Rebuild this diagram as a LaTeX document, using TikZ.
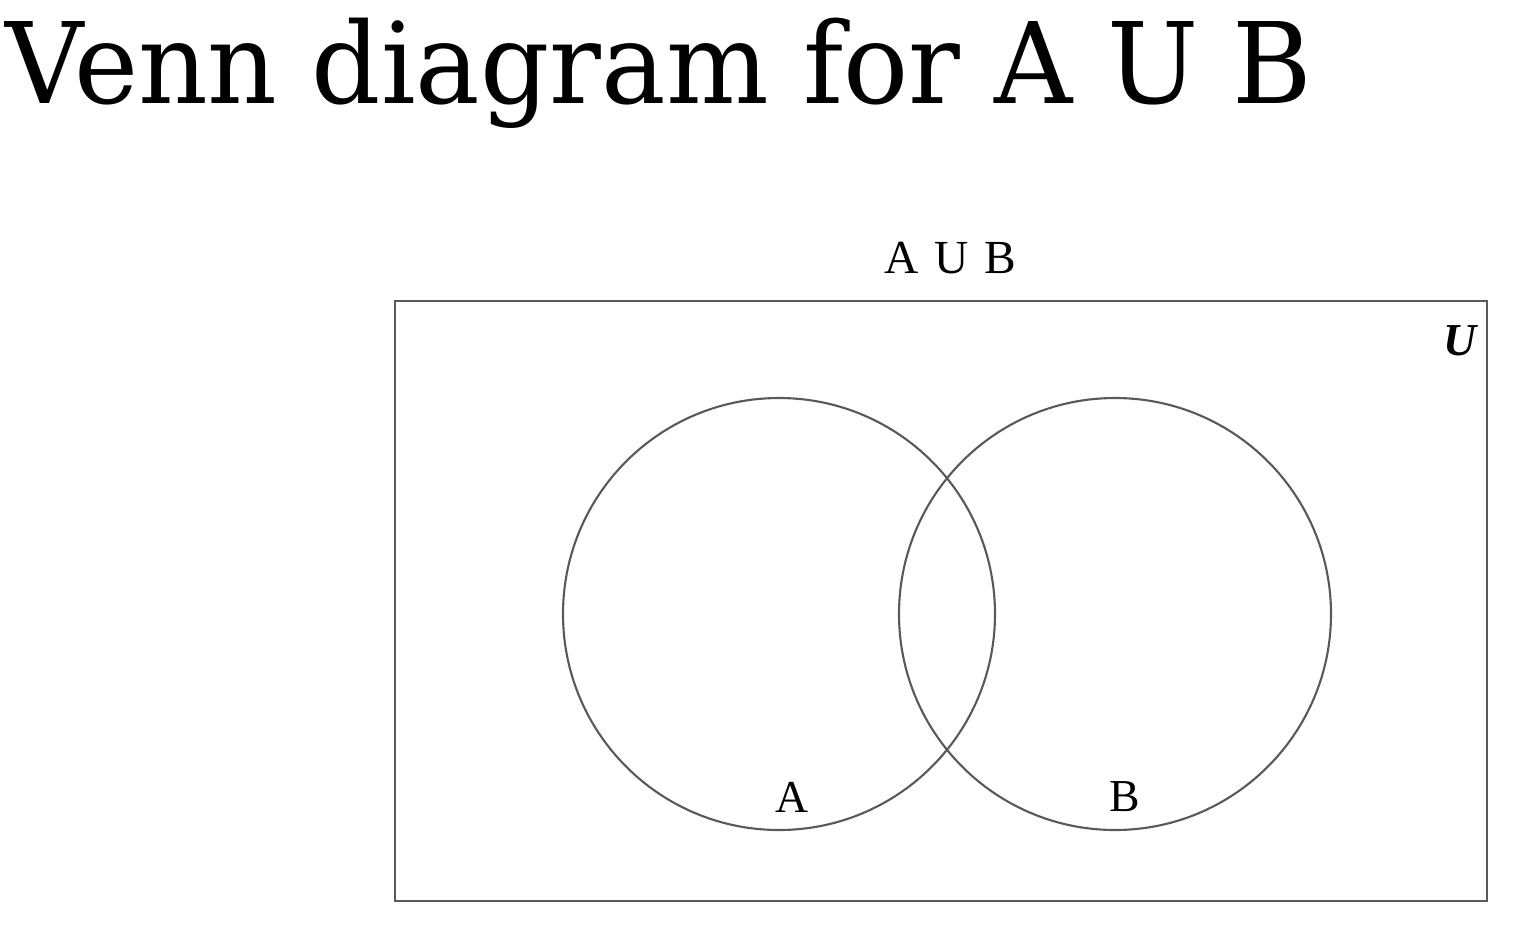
\documentclass[tikz,border=0pt]{standalone}
\usepackage{fontspec}
\setmainfont{Liberation Serif}
\newfontfamily\titlefont{DejaVu Serif}
\usepackage{xcolor}
\usetikzlibrary{positioning}

\tikzset{
  setline/.style={draw=black!65,line width=0.6pt},
  setlabel/.style={inner sep=0pt,font=\fontsize{13}{15}\selectfont}
}

\begin{document}
\begin{tikzpicture}
            \useasboundingbox (0,0) rectangle (15.27,9.31);
            \node[anchor=base west,inner sep=0pt,xscale=0.963,font=\titlefont\fontsize{32}{36}\selectfont] (title) at (0.05,8.28) {Venn diagram for A U B};
            % universe and the two sets
            \draw[setline] (3.95,0.30) rectangle (14.87,6.30);
            \draw[setline] (7.79,3.17) circle (2.16);
            \draw[setline] (11.15,3.17) circle (2.16);
            \node[setlabel,font=\fontsize{13.5}{16}\selectfont] (union) at (9.50,6.73) {A\,\,U\,\,B};
            \node[setlabel,font=\bfseries\itshape\fontsize{13}{15}\selectfont] (univ) at (14.60,5.90) {U};
            \node[setlabel] (setA) at (7.92,1.34) {A};
            \node[setlabel] (setB) at (11.25,1.34) {B};
      \end{tikzpicture}
\end{document}
